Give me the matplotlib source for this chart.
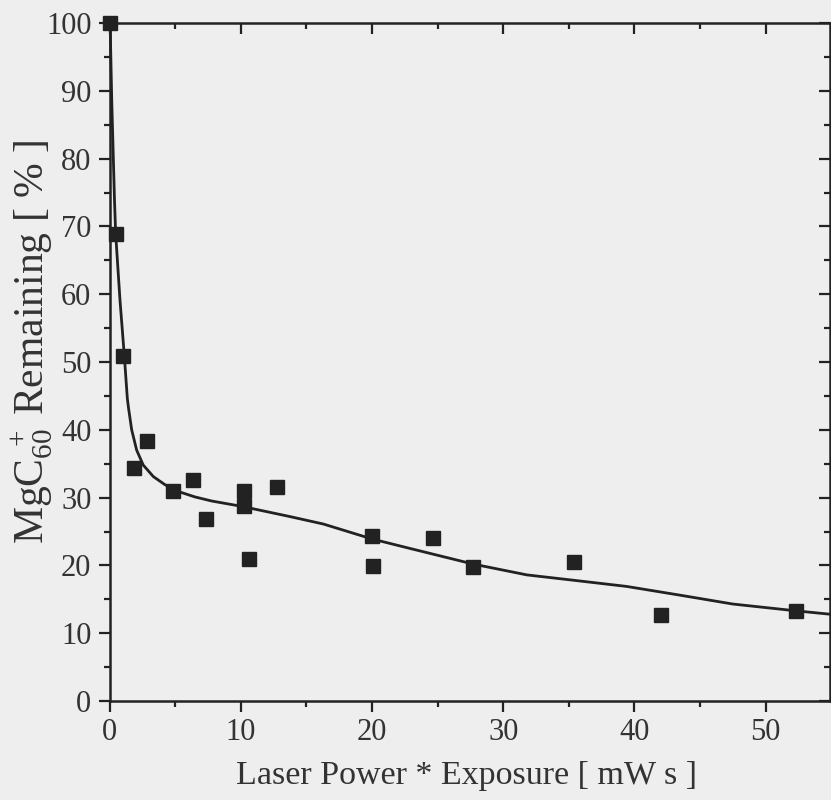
import matplotlib
matplotlib.use("Agg")
import matplotlib.pyplot as plt
from matplotlib.ticker import MultipleLocator

plt.rcParams['font.family'] = ['Liberation Serif', 'DejaVu Serif']
plt.rcParams['mathtext.fontset'] = 'custom'
plt.rcParams['mathtext.rm'] = 'Liberation Serif'
plt.rcParams['mathtext.it'] = 'Liberation Serif:italic'

# measured data (laser power * exposure [mW s], MgC60+ remaining [%])
exposure = [0.05, 0.47, 1.05, 1.89, 2.83, 4.86, 6.34, 7.35, 10.27, 10.27,
            10.65, 12.73, 19.97, 20.05, 24.66, 27.7, 35.4, 42.0, 52.3]
remaining = [100.0, 68.9, 50.9, 34.4, 38.3, 31.0, 32.6, 26.9, 30.9, 28.7,
             20.9, 31.6, 24.4, 19.9, 24.0, 19.7, 20.5, 12.7, 13.3]

# fitted curve
fit_x = [0.05, 0.09, 0.17, 0.38, 0.47, 0.8, 1.13, 1.36, 1.45, 1.69, 2.07,
         2.57, 3.34, 4.23, 5.24, 6.51, 7.78, 10.1, 13.75, 16.3, 20.0, 22.9,
         27.7, 31.8, 35.4, 39.4, 43.5, 47.5, 52.3, 54.9]
fit_y = [100.0, 96.0, 88.6, 73.9, 68.9, 59.1, 50.9, 44.6, 43.2, 40.0, 37.0,
         34.8, 33.1, 31.9, 30.9, 30.1, 29.5, 28.7, 27.2, 26.1, 23.9, 22.5,
         20.2, 18.6, 17.8, 16.9, 15.6, 14.3, 13.3, 12.8]

x_ticks = [0, 10, 20, 30, 40, 50]
y_ticks = [0, 10, 20, 30, 40, 50, 60, 70, 80, 90, 100]

bg = '#eeeeee'
ink = '#222222'
txt = '#333333'

fig = plt.figure(figsize=(8.31, 8.0), dpi=100, facecolor=bg)
ax = fig.add_axes([109.5 / 831, 99 / 800, (830 - 109.5) / 831, 678 / 800])
ax.set_facecolor(bg)

ax.plot(fit_x, fit_y, color=ink, lw=2.0, zorder=2, clip_on=False)
ax.plot(exposure, remaining, ls='none', marker='s', ms=9.5, color=ink,
        mec=ink, zorder=3, clip_on=False)

ax.set_xlim(0, 54.9)
ax.set_ylim(0, 100)
ax.set_xticks(x_ticks)
ax.set_yticks(y_ticks)
ax.xaxis.set_minor_locator(MultipleLocator(5))
ax.yaxis.set_minor_locator(MultipleLocator(5))

for s in ax.spines.values():
    s.set_color(ink)
    s.set_linewidth(1.8)

ax.tick_params(which='both', direction='out', color=ink, width=1.6,
               labelcolor=txt, labelsize=22)
ax.tick_params(axis='x', which='major', length=8, pad=4)
ax.tick_params(axis='y', which='major', length=8, pad=5)
ax.tick_params(which='minor', length=4)
ax.tick_params(which='both', top=False, right=False)

# inward ticks on top and right
sec_x = ax.secondary_xaxis('top')
sec_x.set_xticks(x_ticks)
sec_x.xaxis.set_minor_locator(MultipleLocator(5))
sec_x.tick_params(which='both', direction='in', color=ink, width=1.6, labeltop=False)
sec_x.tick_params(which='major', length=8)
sec_x.tick_params(which='minor', length=4)
sec_x.spines['top'].set_visible(False)
sec_y = ax.secondary_yaxis('right')
sec_y.set_yticks(y_ticks)
sec_y.yaxis.set_minor_locator(MultipleLocator(5))
sec_y.tick_params(which='both', direction='in', color=ink, width=1.6, labelright=False)
sec_y.tick_params(which='major', length=8)
sec_y.tick_params(which='minor', length=4)
sec_y.spines['right'].set_visible(False)

ax.set_xlabel('Laser Power * Exposure [ mW s ]', fontsize=24.5, color=txt)
ax.xaxis.set_label_coords(0.496, -0.088)
ax.set_ylabel(r'MgC$_{60}^{\ +}$ Remaining [ % ]', fontsize=30, color=txt)
ax.yaxis.set_label_coords(-0.075, 0.53)

fig.savefig('out.png', dpi=100, facecolor=bg)
